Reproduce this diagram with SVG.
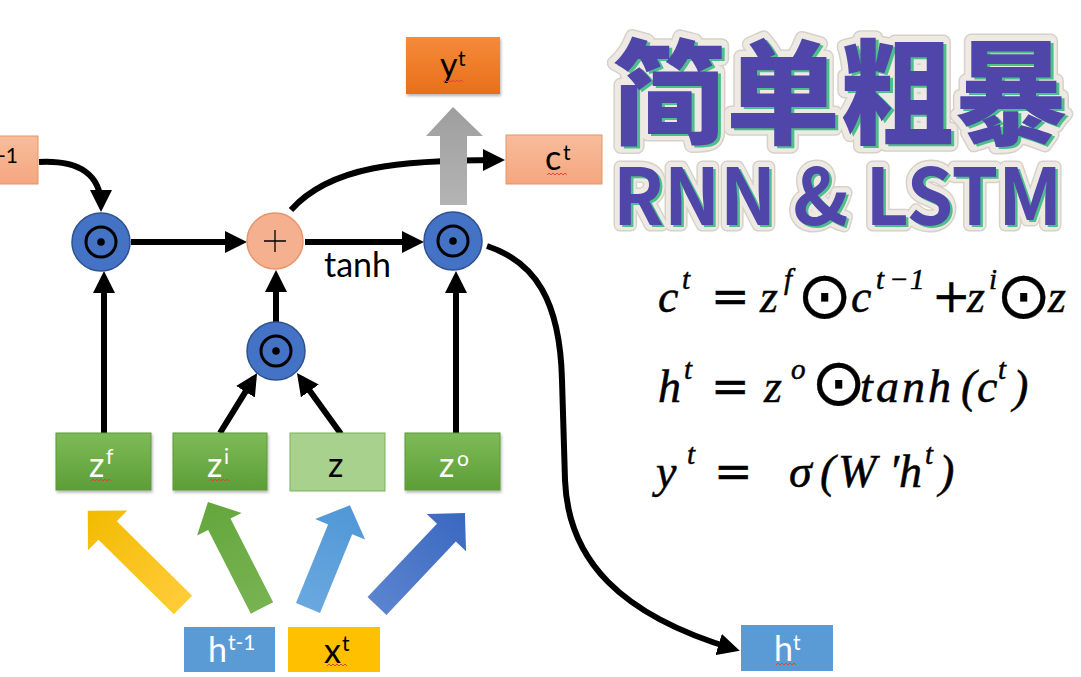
<svg xmlns="http://www.w3.org/2000/svg" width="1081" height="677" viewBox="0 0 1081 677">
<style>
.lbl{font-family:Lato,"Open Sans","Liberation Sans",sans-serif;font-size:34px;}
.sup{font-family:Lato,"Open Sans","Liberation Sans",sans-serif;font-size:21px;}
.wh{fill:#ffffff;}
.bk{fill:#000000;}
.conn{fill:none;stroke:#000;stroke-width:6;}
.gate{stroke:#5e9a3a;stroke-width:1;}
.mul{fill:#4472c4;stroke:#2f528f;stroke-width:1.5;}
.ring{fill:none;stroke:#000;stroke-width:3;}
.math{font-family:"Liberation Serif","DejaVu Serif",serif;font-style:italic;font-size:46px;fill:#000;stroke:#000;stroke-width:0.5;}
.msup{font-size:29px;}
.op{font-family:"DejaVu Serif","Liberation Serif",serif;font-style:normal;}
.od{font-family:"DejaVu Sans",sans-serif;font-style:normal;font-size:66px;stroke-width:0.3;}
.title{font-family:"Noto Sans CJK SC","Noto Sans",sans-serif;}
.squig{fill:none;stroke:#e0443a;stroke-width:1;}
</style>
<defs>
<marker id="ah" markerUnits="userSpaceOnUse" markerWidth="22" markerHeight="22" viewBox="0 0 22 22" refX="16" refY="11" orient="auto">
<path d="M0,0 L22,11 L0,22 z" fill="#000"/>
</marker>
<linearGradient id="gGreen" x1="0" y1="0" x2="0" y2="1"><stop offset="0" stop-color="#7dbb58"/><stop offset="1" stop-color="#5d9e38"/></linearGradient>
<linearGradient id="gOrange" x1="0" y1="0" x2="0" y2="1"><stop offset="0" stop-color="#f58b3a"/><stop offset="1" stop-color="#e86f1a"/></linearGradient>
<linearGradient id="gSalmon" x1="0" y1="0" x2="0" y2="1"><stop offset="0" stop-color="#f8bc9c"/><stop offset="1" stop-color="#f4a77f"/></linearGradient>
<linearGradient id="gGray" x1="0" y1="0" x2="0" y2="1"><stop offset="0" stop-color="#9e9e9e"/><stop offset="1" stop-color="#b4b4b4"/></linearGradient>
<linearGradient id="aY" x1="0" y1="0" x2="1" y2="0"><stop offset="0" stop-color="#ffcc3a"/><stop offset="1" stop-color="#f2bb00"/></linearGradient>
<linearGradient id="aG" x1="0" y1="0" x2="1" y2="0"><stop offset="0" stop-color="#78b352"/><stop offset="1" stop-color="#64a63c"/></linearGradient>
<linearGradient id="aL" x1="0" y1="0" x2="1" y2="0"><stop offset="0" stop-color="#6aa8df"/><stop offset="1" stop-color="#4f97d6"/></linearGradient>
<linearGradient id="aD" x1="0" y1="0" x2="1" y2="0"><stop offset="0" stop-color="#5b84cf"/><stop offset="1" stop-color="#3a68c0"/></linearGradient>
<filter id="sh" x="-10%" y="-10%" width="130%" height="140%"><feDropShadow dx="1" dy="2" stdDeviation="1.5" flood-color="#000" flood-opacity="0.3"/></filter>
<g id="odot"><circle r="15" class="ring"/><circle r="3.8" fill="#000"/></g>
</defs>

<!-- title -->
<g id="title">
<text class="title" font-weight="900" x="612" y="135" font-size="114" textLength="456" lengthAdjust="spacingAndGlyphs" fill="#ebe7df" stroke="#d6d2ca" stroke-width="15" stroke-linejoin="round">简单粗暴</text>
<text class="title" font-weight="900" x="612" y="135" font-size="114" textLength="456" lengthAdjust="spacingAndGlyphs" fill="#eeeae3" stroke="#eeeae3" stroke-width="12" stroke-linejoin="round">简单粗暴</text>
<text class="title" font-weight="900" x="615" y="137" font-size="114" textLength="456" lengthAdjust="spacingAndGlyphs" fill="#4cbf8b">简单粗暴</text>
<text class="title" font-weight="900" x="612" y="135" font-size="114" textLength="456" lengthAdjust="spacingAndGlyphs" fill="#5046aa">简单粗暴</text>
<text class="title" font-weight="700" x="613" y="225" font-size="78" textLength="449" lengthAdjust="spacingAndGlyphs" fill="#ebe7df" stroke="#d6d2ca" stroke-width="13" stroke-linejoin="round">RNN &amp; LSTM</text>
<text class="title" font-weight="700" x="613" y="225" font-size="78" textLength="449" lengthAdjust="spacingAndGlyphs" fill="#eeeae3" stroke="#eeeae3" stroke-width="10" stroke-linejoin="round">RNN &amp; LSTM</text>
<text class="title" font-weight="700" x="615.5" y="226.5" font-size="78" textLength="449" lengthAdjust="spacingAndGlyphs" fill="#4cbf8b">RNN &amp; LSTM</text>
<text class="title" font-weight="700" x="613" y="225" font-size="78" textLength="449" lengthAdjust="spacingAndGlyphs" fill="#5046aa">RNN &amp; LSTM</text>
</g>

<!-- formulas -->
<g id="formulas">
<text class="math"><tspan x="658" y="312">c</tspan><tspan x="682" y="289" class="msup">t</tspan><tspan x="711" y="312" class="op">=</tspan><tspan x="760" y="312">z</tspan><tspan x="784" y="289" class="msup">f</tspan><tspan x="797" y="318" class="od">⊙</tspan><tspan x="851" y="312">c</tspan><tspan x="876 889 910" y="289" class="msup">t−1</tspan><tspan x="932" y="312" class="op">+</tspan><tspan x="967" y="312">z</tspan><tspan x="989" y="289" class="msup">i</tspan><tspan x="996" y="318" class="od">⊙</tspan><tspan x="1048" y="312">z</tspan></text>
<text class="math"><tspan x="658" y="402">h</tspan><tspan x="684" y="379" class="msup">t</tspan><tspan x="711" y="402" class="op">=</tspan><tspan x="764" y="402">z</tspan><tspan x="791" y="379" class="msup">o</tspan><tspan x="811" y="405" class="od">⊙</tspan><tspan x="860 876 902 928 961 977" y="402">tanh(c</tspan><tspan x="998" y="379" class="msup">t</tspan><tspan x="1013" y="402">)</tspan></text>
<text class="math"><tspan x="656" y="487">y</tspan><tspan x="687" y="464" class="msup">t</tspan><tspan x="714" y="487" class="op">=</tspan><tspan x="789 820 838" y="487">σ(W</tspan><tspan x="889" y="487">′</tspan><tspan x="899" y="487">h</tspan><tspan x="925" y="464" class="msup">t</tspan><tspan x="939" y="487">)</tspan></text>
</g>

<!-- connectors -->
<g id="connectors">
<path class="conn" marker-end="url(#ah)" d="M39,162 C 80,160 101,175 101,206"/>
<path class="conn" marker-end="url(#ah)" d="M131,242 L241,242"/>
<path class="conn" marker-end="url(#ah)" d="M305,242 L418,242"/>
<path class="conn" marker-end="url(#ah)" d="M291,210 C 330,166 400,160 499,160"/>
<path class="conn" marker-end="url(#ah)" d="M104,433 L104,277"/>
<path class="conn" marker-end="url(#ah)" d="M220,433 L253.9,378.1"/>
<path class="conn" marker-end="url(#ah)" d="M341,434 L300.5,377.9"/>
<path class="conn" marker-end="url(#ah)" d="M276,322 L276,276"/>
<path class="conn" marker-end="url(#ah)" d="M456,433 L456,277"/>
<path class="conn" marker-end="url(#ah)" d="M487,246 C 535,262 560,300 562,380 L565,480 C 568,560 620,615 734,649"/>
<!-- gray output arrow -->
<polygon points="440,205 440,136 426,136 453,107 483,136 467,136 467,205" fill="url(#gGray)"/>
<!-- block input arrows -->
<polygon transform="translate(183,605) rotate(-135.3)" points="0,-13 106,-13 106,-28 134,0 106,28 106,13 0,13" fill="url(#aY)"/>
<polygon transform="translate(262,608) rotate(-117)" points="0,-12.5 94,-12.5 94,-25 119,0 94,25 94,12.5 0,12.5" fill="url(#aG)"/>
<polygon transform="translate(308,608) rotate(-67.8)" points="0,-13 85,-13 85,-27 111,0 85,27 85,13 0,13" fill="url(#aL)"/>
<polygon transform="translate(377,606) rotate(-46.6)" points="0,-13 101,-13 101,-27 128,0 101,27 101,13 0,13" fill="url(#aD)"/>
</g>

<!-- c(t-1) -->
<g id="node-cprev">
<rect x="-10" y="136" width="48" height="48" fill="url(#gSalmon)" stroke="#e3956a" stroke-width="1"/>
<text class="lbl bk" x="-28" y="172">c</text>
<text class="sup bk" x="18" y="163" text-anchor="end" font-size="22">t-1</text>
</g>

<g id="node-mul-f"><circle cx="101" cy="242" r="29" class="mul"/><use href="#odot" x="101" y="242"/></g>
<g id="node-plus"><circle cx="275" cy="241" r="28" fill="#f4b08f" stroke="#e8956a" stroke-width="1.5"/><path d="M264,241 H286 M275,230 V252" stroke="#000" stroke-width="1.3"/></g>
<g id="node-mul-o"><circle cx="453" cy="241" r="29" class="mul"/><use href="#odot" x="453" y="241"/></g>
<g id="node-mul-i"><circle cx="276" cy="351" r="29" class="mul"/><use href="#odot" x="276" y="351"/></g>

<g id="node-tanh"><text class="lbl bk" x="324" y="277" font-size="29">tanh</text></g>

<g id="node-yt">
<rect x="406" y="37" width="94" height="57" fill="url(#gOrange)" filter="url(#sh)"/>
<text class="lbl bk" x="440" y="77">y</text><text class="sup bk" x="458" y="66">t</text>
<path class="squig" d="M443,82 l2,-2 l2,2 l2,-2 l2,2 l2,-2 l2,2 l2,-2 l2,2 l2,-2 l2,2"/>
</g>

<g id="node-ct">
<rect x="506" y="135" width="96" height="49" fill="url(#gSalmon)" stroke="#e3956a" stroke-width="1"/>
<text class="lbl bk" x="545" y="170">c</text><text class="sup bk" x="563" y="160">t</text>
<path class="squig" d="M547,175 l2,-2 l2,2 l2,-2 l2,2 l2,-2 l2,2 l2,-2 l2,2 l2,-2 l2,2"/>
</g>

<g id="node-zf">
<rect x="56" y="433" width="95" height="57" fill="url(#gGreen)" class="gate" filter="url(#sh)"/>
<text class="lbl wh" x="89" y="477">z</text><text class="sup wh" x="106" y="464">f</text>
<path class="squig" d="M91,481 l2,-2 l2,2 l2,-2 l2,2 l2,-2 l2,2 l2,-2 l2,2 l2,-2 l2,2"/>
</g>
<g id="node-zi">
<rect x="173" y="433" width="94" height="57" fill="url(#gGreen)" class="gate" filter="url(#sh)"/>
<text class="lbl wh" x="207" y="477">z</text><text class="sup wh" x="224" y="464">i</text>
<path class="squig" d="M209,481 l2,-2 l2,2 l2,-2 l2,2 l2,-2 l2,2 l2,-2 l2,2 l2,-2 l2,2"/>
</g>
<g id="node-z">
<rect x="290" y="433" width="95" height="58" fill="#a9d18e" stroke="#7bb157" stroke-width="1"/>
<text class="lbl bk" x="328" y="477">z</text>
</g>
<g id="node-zo">
<rect x="405" y="433" width="95" height="57" fill="url(#gGreen)" class="gate" filter="url(#sh)"/>
<text class="lbl wh" x="439" y="477">z</text><text class="sup wh" x="457" y="466">o</text>
</g>

<g id="node-hprev">
<rect x="184" y="627" width="91" height="45" fill="#5b9bd5"/>
<text class="lbl wh" x="208" y="662">h</text><text class="sup wh" x="228" y="650" font-size="22">t-1</text>
</g>
<g id="node-xt">
<rect x="288" y="627" width="92" height="45" fill="#ffc000"/>
<text class="lbl bk" x="324" y="663">x</text><text class="sup bk" x="342" y="651">t</text>
<path class="squig" d="M327,666 l2,-2 l2,2 l2,-2 l2,2 l2,-2 l2,2 l2,-2 l2,2 l2,-2 l2,2"/>
</g>
<g id="node-ht">
<rect x="741" y="625" width="92" height="46" fill="#5b9bd5"/>
<text class="lbl wh" x="774" y="661">h</text><text class="sup wh" x="793" y="650">t</text>
<path class="squig" d="M776,665 l2,-2 l2,2 l2,-2 l2,2 l2,-2 l2,2 l2,-2 l2,2 l2,-2 l2,2"/>
</g>
</svg>
